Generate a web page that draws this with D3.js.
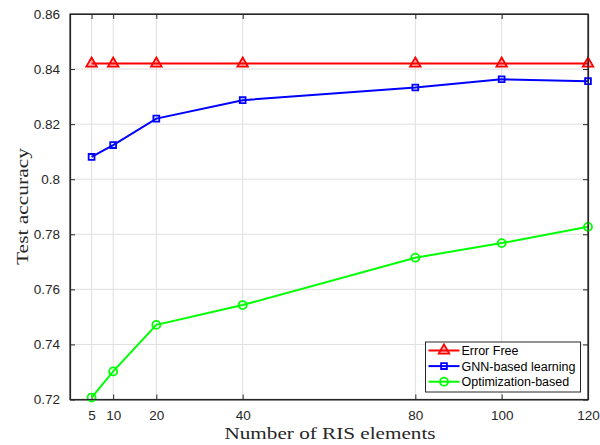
<!DOCTYPE html>
<html>
<head>
<meta charset="utf-8">
<script src="https://cdn.jsdelivr.net/npm/d3@7"></script>
<style>
  body { margin: 0; background: #fff; }
  svg { display: block; }
</style>
</head>
<body>
<svg id="chart"></svg>
<script>
const risElements = [5, 10, 20, 40, 80, 100, 120];
const errorFree = [0.842, 0.842, 0.842, 0.842, 0.842, 0.842, 0.842];
const gnnLearning = [0.8081, 0.8124, 0.8220, 0.8287, 0.8333, 0.8363, 0.8356];
const optimization = [0.7207, 0.7302, 0.7471, 0.7543, 0.7715, 0.7768, 0.7827];
const yTicks = [0.72, 0.74, 0.76, 0.78, 0.8, 0.82, 0.84, 0.86];
const yTickLabels = ["0.72", "0.74", "0.76", "0.78", "0.8", "0.82", "0.84", "0.86"];

const width = 600, height = 445;
const plot = { left: 70, right: 588, top: 14, bottom: 399.5 };
const axisColor = "#262626";
const gridColor = "#dfdfdf";

const series = [
  { name: "Error Free", values: errorFree, color: "#ff0000", marker: "triangle" },
  { name: "GNN-based learning", values: gnnLearning, color: "#0000ff", marker: "square" },
  { name: "Optimization-based", values: optimization, color: "#00ff00", marker: "circle" }
];

const svg = d3.select("#chart")
  .attr("width", width)
  .attr("height", height);

const x = d3.scaleLinear().domain([0, 120]).range([plot.left, plot.right]);
const y = d3.scaleLinear().domain([0.72, 0.86]).range([plot.bottom, plot.top]);

// grid
svg.append("g")
  .selectAll("line")
  .data(risElements)
  .enter()
  .append("line")
  .attr("x1", d => x(d)).attr("x2", d => x(d))
  .attr("y1", plot.top).attr("y2", plot.bottom)
  .attr("stroke", gridColor).attr("stroke-width", 1);

svg.append("g")
  .selectAll("line")
  .data(yTicks)
  .enter()
  .append("line")
  .attr("x1", plot.left).attr("x2", plot.right)
  .attr("y1", d => y(d)).attr("y2", d => y(d))
  .attr("stroke", gridColor).attr("stroke-width", 1);

// axes (ticks inward, MATLAB style)
const tickFont = "'Liberation Sans', Arial, sans-serif";

const xAxis = svg.append("g")
  .attr("transform", `translate(0,${plot.bottom})`)
  .call(d3.axisBottom(x).tickValues(risElements).tickSizeInner(-5).tickSizeOuter(0).tickPadding(11));
const xAxisTop = svg.append("g")
  .attr("transform", `translate(0,${plot.top})`)
  .call(d3.axisTop(x).tickValues(risElements).tickSizeInner(-5).tickSizeOuter(0).tickFormat(""));
const yAxis = svg.append("g")
  .attr("transform", `translate(${plot.left},0)`)
  .call(d3.axisLeft(y).tickValues(yTicks).tickSizeInner(-5).tickSizeOuter(0).tickPadding(10)
    .tickFormat((d, i) => yTickLabels[i]));
const yAxisRight = svg.append("g")
  .attr("transform", `translate(${plot.right},0)`)
  .call(d3.axisRight(y).tickValues(yTicks).tickSizeInner(-5).tickSizeOuter(0).tickFormat(""));

[xAxis, xAxisTop, yAxis, yAxisRight].forEach(g => {
  g.select(".domain").attr("stroke", axisColor).attr("stroke-width", 1.2);
  g.selectAll(".tick line").attr("stroke", axisColor).attr("stroke-width", 1);
  g.selectAll("text")
    .attr("fill", axisColor)
    .style("font-family", tickFont)
    .style("font-size", "13.5px");
});

// lines and markers
const line = d3.line()
  .x((d, i) => x(risElements[i]))
  .y(d => y(d));

const triangle = d3.symbol().type(d3.symbolTriangle).size(48);
const square = d3.symbol().type(d3.symbolSquare).size(34);

const drawMarker = (g, s, cx, cy) => {
  if (s.marker === "circle") {
    g.append("circle")
      .attr("cx", cx).attr("cy", cy).attr("r", 4)
      .attr("fill", "none").attr("stroke", s.color).attr("stroke-width", 1.8);
  } else {
    g.append("path")
      .attr("transform", `translate(${cx},${cy})`)
      .attr("d", s.marker === "triangle" ? triangle() : square())
      .attr("fill", s.marker === "triangle" ? s.color : "none")
      .attr("fill-opacity", s.marker === "triangle" ? 0.25 : 0)
      .attr("stroke", s.color).attr("stroke-width", 1.8);
  }
};

series.forEach(s => {
  svg.append("path")
    .datum(s.values)
    .attr("d", line)
    .attr("fill", "none")
    .attr("stroke", s.color)
    .attr("stroke-width", 2);
  const g = svg.append("g");
  s.values.forEach((v, i) => drawMarker(g, s, x(risElements[i]), y(v)));
});

// redraw box edges on top
svg.append("rect")
  .attr("x", plot.left).attr("y", plot.top)
  .attr("width", plot.right - plot.left).attr("height", plot.bottom - plot.top)
  .attr("fill", "none").attr("stroke", axisColor).attr("stroke-width", 1.2);

// axis labels (LaTeX-like serif)
const labelFont = "'Liberation Serif', 'DejaVu Serif', serif";
svg.append("text")
  .attr("x", 330)
  .attr("y", 438.5)
  .attr("text-anchor", "middle")
  .attr("fill", axisColor)
  .attr("textLength", 211)
  .attr("lengthAdjust", "spacingAndGlyphs")
  .style("font-family", labelFont)
  .style("font-size", "17px")
  .text("Number of RIS elements");

svg.append("text")
  .attr("transform", `translate(28,206.5) rotate(-90)`)
  .attr("text-anchor", "middle")
  .attr("fill", axisColor)
  .attr("textLength", 117)
  .attr("lengthAdjust", "spacingAndGlyphs")
  .style("font-family", labelFont)
  .style("font-size", "17.5px")
  .text("Test accuracy");

// legend
const legend = svg.append("g").attr("transform", "translate(425.5,342)");
legend.append("rect")
  .attr("width", 155).attr("height", 50)
  .attr("fill", "#fff").attr("stroke", axisColor).attr("stroke-width", 1);

series.forEach((s, i) => {
  const ly = 8.5 + i * 15.6;
  legend.append("line")
    .attr("x1", 3).attr("x2", 34)
    .attr("y1", ly).attr("y2", ly)
    .attr("stroke", s.color).attr("stroke-width", 2);
  drawMarker(legend, s, 18.5, ly);
  legend.append("text")
    .attr("x", 36).attr("y", ly + 4.5)
    .attr("fill", "#000")
    .style("font-family", tickFont)
    .style("font-size", "12.5px")
    .text(s.name);
});
</script>
</body>
</html>
